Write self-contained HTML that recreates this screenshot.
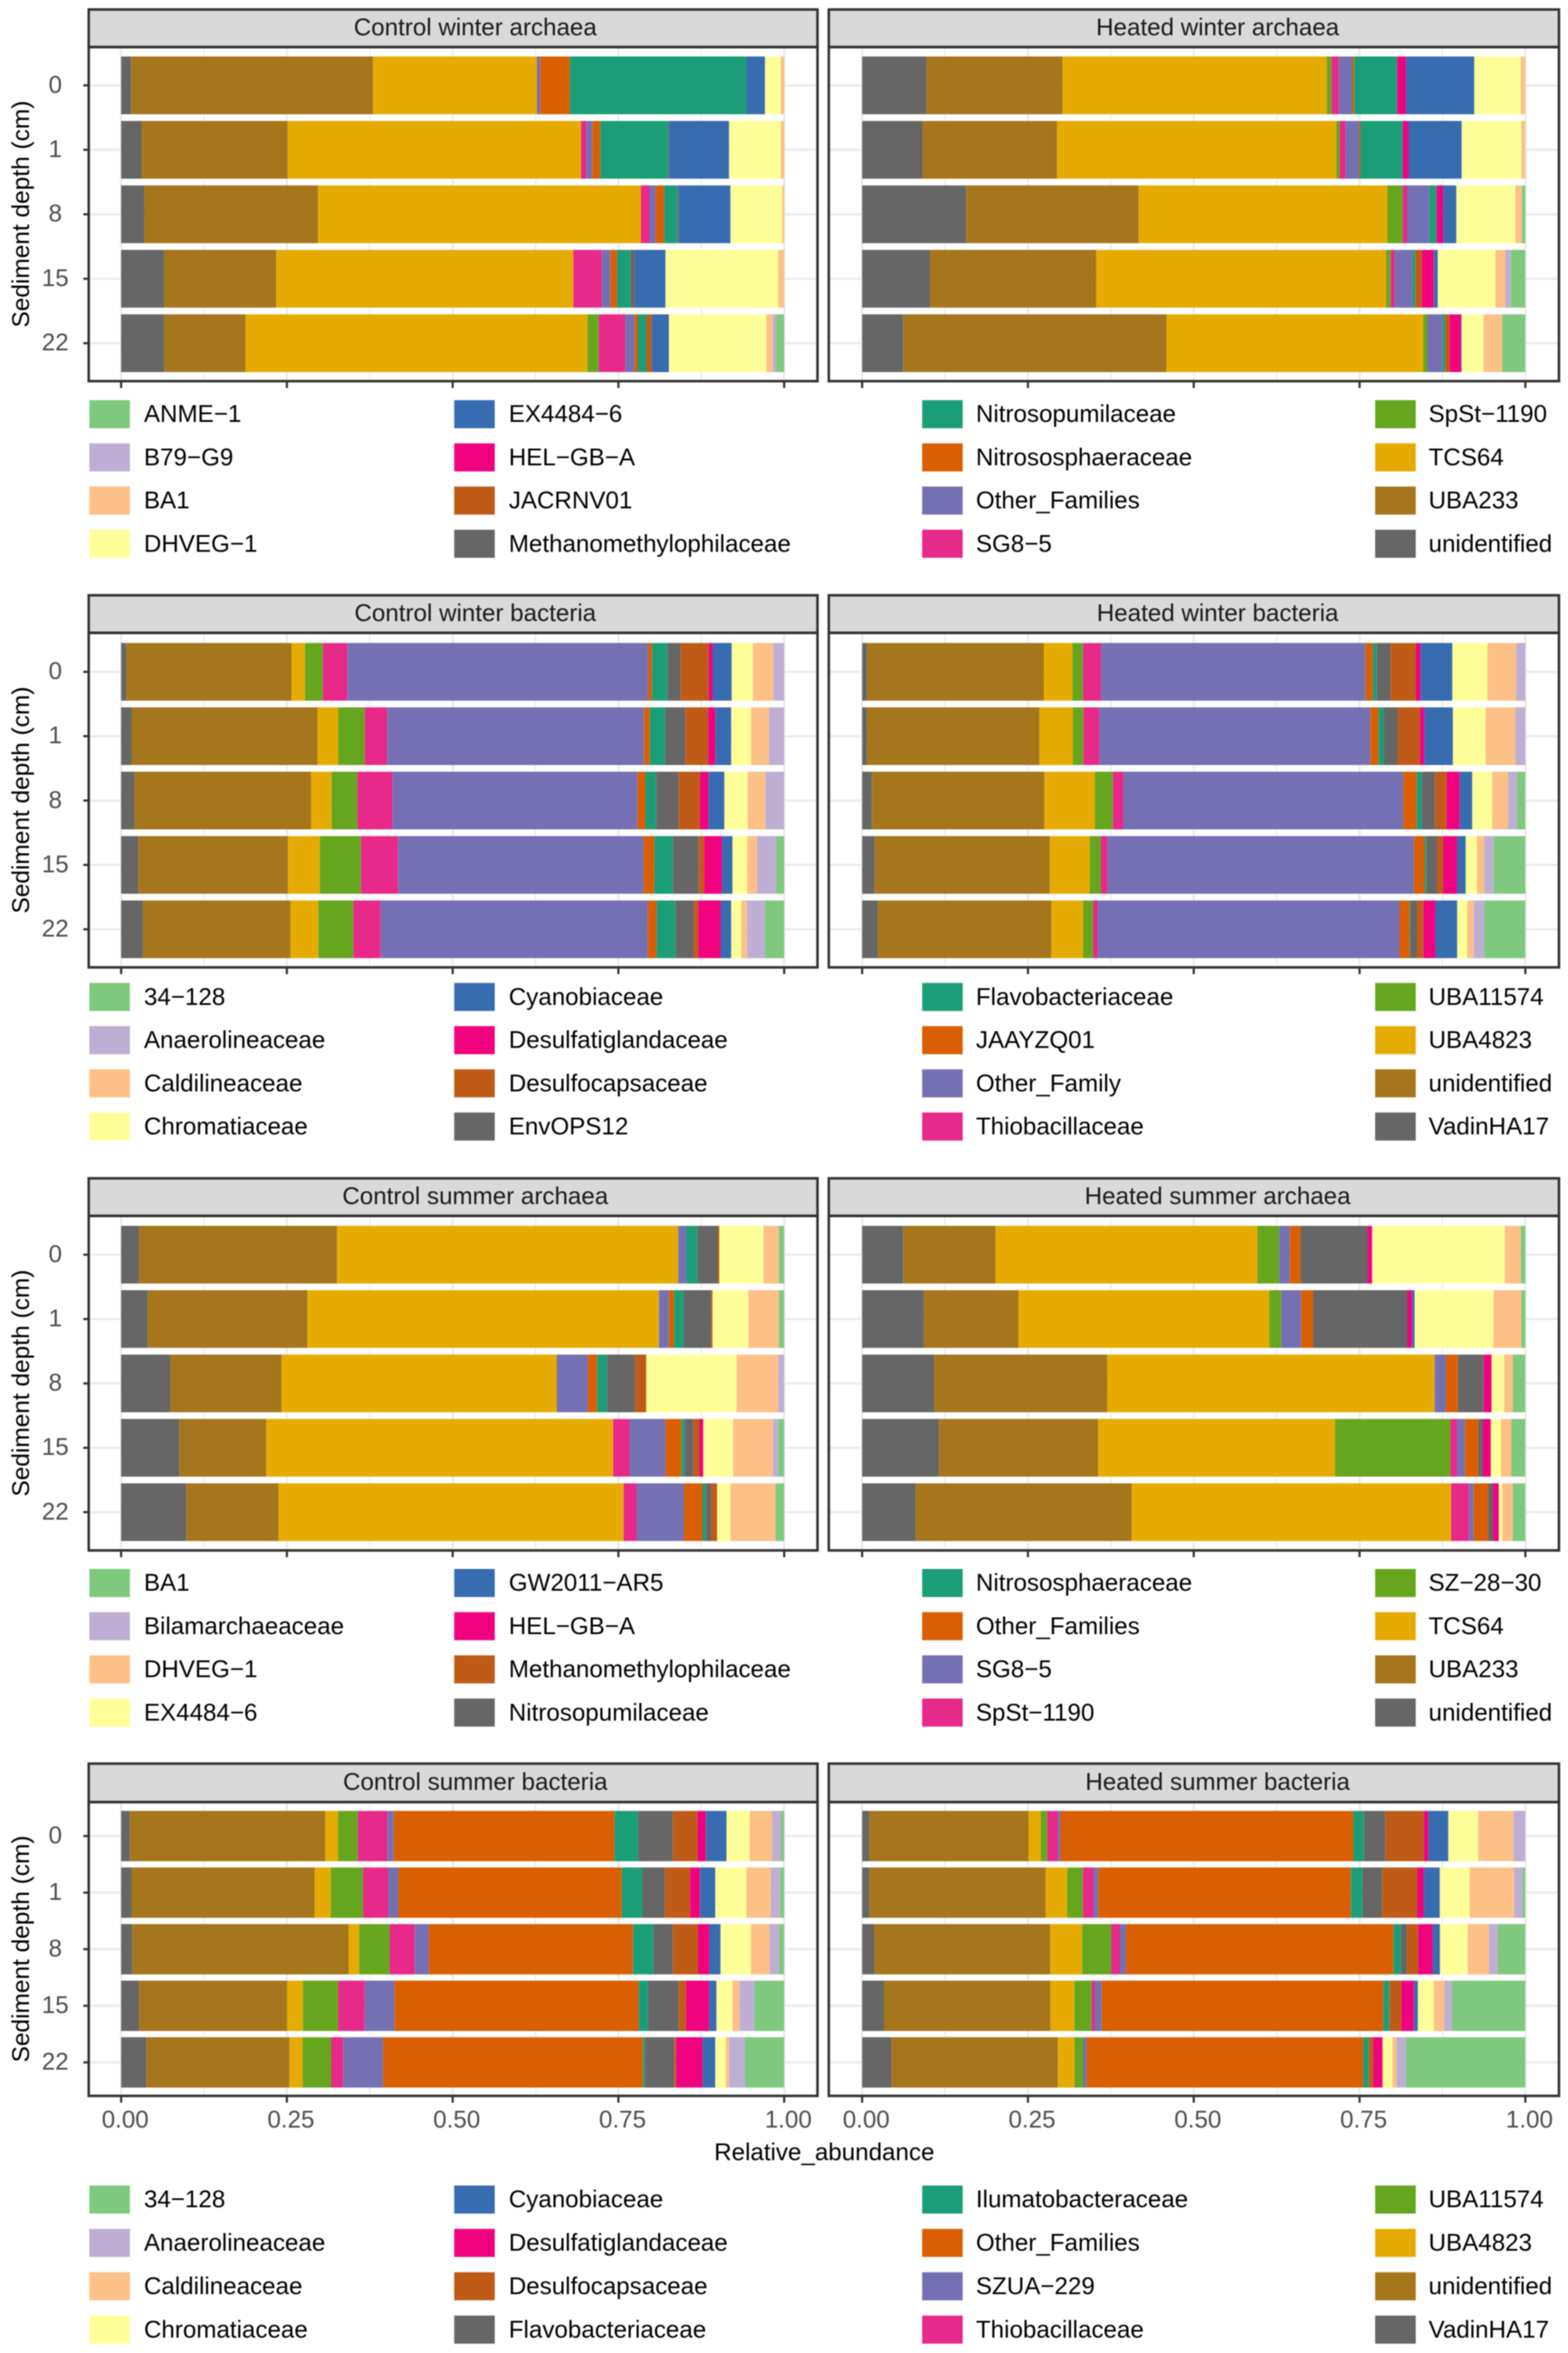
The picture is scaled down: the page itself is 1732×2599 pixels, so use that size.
<!DOCTYPE html>
<html lang="en">
<head>
<meta charset="utf-8">
<title>Relative abundance by sediment depth</title>
<style>
html,body{margin:0;padding:0;background:#fff;}
#figure{display:block;width:1732px;height:2599px;filter:blur(0.5px);}
text{font-family:"Liberation Sans",sans-serif;}
</style>
</head>
<body>
<svg id="figure" xmlns="http://www.w3.org/2000/svg" width="1732" height="2599" viewBox="0 0 1732 2599"></svg>
<script>
// Categories and ticks
const depthLabels = ['0', '1', '8', '15', '22'];
const xTickValues = [0, 0.25, 0.5, 0.75, 1];
const xTickLabels = ['0.00', '0.25', '0.50', '0.75', '1.00'];
const xMinorValues = [0.125, 0.375, 0.625, 0.875];

// Legend labels, alphabetical (fill palette order)
const winterArchaeaLegend = ['ANME\u22121', 'B79\u2212G9', 'BA1', 'DHVEG\u22121', 'EX4484\u22126', 'HEL\u2212GB\u2212A', 'JACRNV01', 'Methanomethylophilaceae', 'Nitrosopumilaceae', 'Nitrososphaeraceae', 'Other_Families', 'SG8\u22125', 'SpSt\u22121190', 'TCS64', 'UBA233', 'unidentified'];
const winterBacteriaLegend = ['34\u2212128', 'Anaerolineaceae', 'Caldilineaceae', 'Chromatiaceae', 'Cyanobiaceae', 'Desulfatiglandaceae', 'Desulfocapsaceae', 'EnvOPS12', 'Flavobacteriaceae', 'JAAYZQ01', 'Other_Family', 'Thiobacillaceae', 'UBA11574', 'UBA4823', 'unidentified', 'VadinHA17'];
const summerArchaeaLegend = ['BA1', 'Bilamarchaeaceae', 'DHVEG\u22121', 'EX4484\u22126', 'GW2011\u2212AR5', 'HEL\u2212GB\u2212A', 'Methanomethylophilaceae', 'Nitrosopumilaceae', 'Nitrososphaeraceae', 'Other_Families', 'SG8\u22125', 'SpSt\u22121190', 'SZ\u221228\u221230', 'TCS64', 'UBA233', 'unidentified'];
const summerBacteriaLegend = ['34\u2212128', 'Anaerolineaceae', 'Caldilineaceae', 'Chromatiaceae', 'Cyanobiaceae', 'Desulfatiglandaceae', 'Desulfocapsaceae', 'Flavobacteriaceae', 'Ilumatobacteraceae', 'Other_Families', 'SZUA\u2212229', 'Thiobacillaceae', 'UBA11574', 'UBA4823', 'unidentified', 'VadinHA17'];

const palette = ['#7FC97F', '#BEAED4', '#FDC086', '#FFFF99', '#386CB0', '#F0027F', '#BF5B17', '#666666', '#1B9E77', '#D95F02', '#7570B3', '#E7298A', '#66A61E', '#E6AB02', '#A6761D', '#666666'];

// Series values (% abundance), one row per depth. Each row runs left to right
// along the bar, i.e. reverse legend order.
const controlWinterArchaea = [
  [1.5, 36.5, 24.7, 0, 0, 0.5, 4.5, 26.6, 0, 0, 0, 2.8, 2.4, 0.5, 0, 0],
  [3.1, 22, 44.2, 0, 0.8, 0.9, 1.2, 10.2, 0.2, 0, 0, 9, 7.8, 0.5, 0, 0],
  [3.5, 26.2, 48.7, 0, 1.3, 0.9, 1.3, 2, 0.2, 0, 0, 7.8, 7.8, 0.3, 0, 0],
  [6.5, 16.9, 44.8, 0, 4.3, 1.3, 1, 2, 0.7, 0, 0, 4.6, 17, 0.9, 0, 0],
  [6.5, 12.3, 51.6, 1.7, 4, 1.4, 0.5, 1.3, 0, 0.8, 0, 2.6, 14.7, 1, 0.5, 1.2]
];
const heatedWinterArchaea = [
  [9.7, 20.5, 39.8, 0.7, 1.1, 2, 0.3, 6.5, 0, 0, 1.3, 10.3, 7, 0.7, 0, 0],
  [9.1, 20.3, 42.1, 0.5, 0.9, 2, 0.2, 6.4, 0, 0, 0.9, 8, 9, 0.6, 0, 0],
  [15.7, 26, 37.5, 2.3, 0.7, 3.3, 0, 1.1, 0, 0, 1, 2, 8.9, 1, 0, 0.5],
  [10.2, 25.1, 43.7, 0.7, 0.6, 2.7, 0, 0.4, 0, 1, 1.8, 0.6, 8.7, 1.5, 0.8, 2.2],
  [6.2, 39.7, 38.7, 0.6, 0, 2.3, 0, 0.4, 0, 0.7, 1.7, 0.1, 3.3, 2.8, 0, 3.5]
];
const controlWinterBacteria = [
  [0.8, 24.9, 2, 2.7, 3.7, 45.3, 0.6, 2.3, 2, 4.2, 0.6, 2.9, 3.2, 3.1, 1.6, 0],
  [1.6, 28.1, 3.1, 4, 3.4, 38.8, 0.9, 2.3, 3.1, 3.4, 1.1, 2.4, 3, 2.7, 2.3, 0],
  [2, 26.6, 3.1, 3.9, 5.3, 36.9, 1.2, 1.6, 3.4, 3.2, 1.3, 2.4, 3.5, 2.7, 2.8, 0],
  [2.6, 22.6, 4.8, 6.2, 5.6, 37.1, 1.6, 2.8, 3.9, 0.8, 2.7, 1.6, 2.2, 1.5, 2.9, 1.2],
  [3.3, 22.3, 4.2, 5.3, 4.1, 40.4, 1.3, 2.9, 2.7, 0.7, 3.4, 1.6, 1.5, 0.9, 2.7, 2.9]
];
const heatedWinterBacteria = [
  [0.7, 26.7, 4.3, 1.6, 2.7, 39.9, 1.1, 0.6, 2.1, 3.8, 0.7, 4.8, 5.3, 4.3, 1.4, 0],
  [0.7, 26, 5, 1.6, 2.4, 40.8, 1.2, 0.8, 2.1, 3.3, 0.7, 4.3, 4.9, 4.5, 1.5, 0],
  [1.5, 26, 7.6, 2.7, 1.6, 42.2, 2, 0.8, 2, 1.7, 2, 1.9, 3, 2.4, 1.3, 1.3],
  [1.9, 26.4, 6, 1.7, 1, 46.2, 1.6, 0.3, 1.6, 0.9, 2.1, 1.3, 1.7, 1.1, 1.4, 4.8],
  [2.4, 26.2, 4.8, 1.5, 0.7, 45.6, 1.5, 0.1, 1, 1, 1.8, 3.3, 1.5, 1, 1.6, 6.2]
];
const controlSummerArchaea = [
  [2.7, 29.9, 51.5, 0, 0, 1.2, 0, 1.7, 3.1, 0.2, 0, 0, 6.7, 2.3, 0, 0.8],
  [4, 24.1, 53, 0, 0, 1.5, 0.8, 1.4, 4.2, 0.2, 0, 0, 5.4, 4.6, 0, 0.8],
  [7.4, 16.8, 41.5, 0, 0, 4.7, 1.4, 1.5, 4.2, 1.7, 0, 0, 13.6, 6.3, 0.9, 0],
  [8.8, 13.1, 52.3, 0, 2.5, 5.4, 2.4, 0.5, 1.3, 0.9, 0.6, 0, 4.5, 6, 0.8, 0.9],
  [9.8, 13.9, 52, 0, 2, 7.1, 2.8, 0.5, 0.8, 0.9, 0, 0, 2, 6.8, 0, 1.3]
];
const heatedSummerArchaea = [
  [6.2, 13.9, 39.5, 3.3, 0, 1.6, 1.6, 0, 10.1, 0, 0.7, 0, 20, 2.4, 0, 0.7],
  [9.3, 14.3, 37.8, 1.8, 0, 3, 1.8, 0, 14.2, 0, 0.7, 0.4, 11.9, 4.2, 0, 0.6],
  [10.9, 26.1, 49.4, 0, 0, 1.7, 1.8, 0, 3.9, 0, 1.2, 0, 1.9, 1.3, 0, 1.9],
  [11.6, 24, 35.7, 17.4, 1, 1.2, 2, 0, 0.7, 0, 1.2, 0, 1.5, 1.6, 0, 2.1],
  [8.1, 32.6, 48.2, 0, 2.7, 0.7, 2.2, 0, 0.7, 0, 0.9, 0, 0.5, 1.6, 0, 1.9]
];
const controlSummerBacteria = [
  [1.3, 29.5, 1.9, 3, 4.5, 0.9, 33.3, 3.6, 5.2, 3.7, 1.3, 3.1, 3.5, 3.4, 1.3, 0.5],
  [1.6, 27.6, 2.4, 4.9, 3.8, 1.5, 33.7, 3.1, 3.4, 3.8, 1.5, 2.3, 4.7, 3.7, 1.4, 0.6],
  [1.7, 32.6, 1.6, 4.6, 3.8, 2.1, 30.8, 3.1, 2.9, 3.8, 1.7, 1.7, 4.6, 2.8, 1.4, 0.8],
  [2.7, 22.3, 2.4, 5.3, 4, 4.5, 36.8, 1.4, 4.6, 1.1, 3.5, 1.1, 2.4, 1.1, 2.2, 4.5],
  [3.8, 21.6, 2, 4.3, 1.8, 6, 39.2, 0.3, 4.4, 0.3, 4, 1.9, 1.6, 0.5, 2.4, 5.9]
];
const heatedSummerBacteria = [
  [1.1, 24, 1.8, 1, 1.6, 0.4, 44.1, 1.6, 3.2, 5.8, 0.7, 3, 4.5, 5.3, 1.8, 0],
  [1.1, 26.6, 3.2, 2.4, 1.6, 0.7, 38.1, 1.7, 3, 5.3, 1, 2.4, 4.5, 6.7, 1.3, 0.4],
  [1.8, 26.6, 4.8, 4.4, 1.3, 0.9, 40.4, 1.1, 0.9, 1.7, 2.2, 1.1, 4.2, 3.2, 1.3, 4.2],
  [3.3, 25.1, 3.6, 2.6, 0.5, 1, 42.5, 0.9, 0, 1.8, 1.9, 0.6, 2.4, 1.6, 1.1, 11.1],
  [4.4, 25.1, 2.5, 1.3, 0, 0.5, 41.7, 0.8, 0, 0.7, 1.4, 0, 1.5, 0.6, 1.4, 18]
];

const panelRows = [
  { left: 'Control winter archaea', right: 'Heated winter archaea', leftValues: controlWinterArchaea, rightValues: heatedWinterArchaea, legend: winterArchaeaLegend, slug: 'winter-archaea' },
  { left: 'Control winter bacteria', right: 'Heated winter bacteria', leftValues: controlWinterBacteria, rightValues: heatedWinterBacteria, legend: winterBacteriaLegend, slug: 'winter-bacteria' },
  { left: 'Control summer archaea', right: 'Heated summer archaea', leftValues: controlSummerArchaea, rightValues: heatedSummerArchaea, legend: summerArchaeaLegend, slug: 'summer-archaea' },
  { left: 'Control summer bacteria', right: 'Heated summer bacteria', leftValues: controlSummerBacteria, rightValues: heatedSummerBacteria, legend: summerBacteriaLegend, slug: 'summer-bacteria' }
];

// Layout
const rowGeometry = [
  { stripTop: 10.5, stripBottom: 52, panelBottom: 421, barTop: 62.4, barStep: 71.2, barHeight: 63.8, legendTop: 442, legendStep: 47.7 },
  { stripTop: 657.5, stripBottom: 699, panelBottom: 1068.5, barTop: 710.2, barStep: 71.1, barHeight: 63.7, legendTop: 1085.7, legendStep: 47.7 },
  { stripTop: 1301.5, stripBottom: 1343, panelBottom: 1712.5, barTop: 1354, barStep: 71.1, barHeight: 63.7, legendTop: 1733, legendStep: 47.7 },
  { stripTop: 1948, stripBottom: 1990.5, panelBottom: 2315, barTop: 2000.2, barStep: 62.5, barHeight: 55.6, legendTop: 2414, legendStep: 47.9 }
];
const columnGeometry = [
  { outerLeft: 98, outerRight: 903, x0: 133.8, plotWidth: 732.4, stripTextX: 525 },
  { outerLeft: 915.5, outerRight: 1722, x0: 952.3, plotWidth: 732.6, stripTextX: 1345 }
];
const legendKeyX = [98.7, 501.7, 1018.6, 1519];
const legendTextX = [159, 562, 1078, 1578];
const FONT = 26.7;
const svg = document.getElementById('figure');
const NS = 'http://www.w3.org/2000/svg';

function make(tag, attrs, parent) {
  const node = document.createElementNS(NS, tag);
  for (const key in attrs) node.setAttribute(key, attrs[key]);
  parent.appendChild(node);
  return node;
}
function xScale(col, fraction) {
  return col.x0 + fraction * col.plotWidth;
}
function yBandTop(geo, index) {
  return geo.barTop + index * geo.barStep;
}
function yBandCenter(geo, index) {
  return yBandTop(geo, index) + geo.barHeight / 2;
}

function drawPanel(title, rows, geo, col, isLeft, isBottom, slug) {
  const panel = make('g', {}, svg);
  
  

  // Minor and major vertical gridlines
  xMinorValues.forEach(function (v) {
    const minor = make('line', { x1: xScale(col, v), x2: xScale(col, v), y1: geo.stripBottom, y2: geo.panelBottom, stroke: '#ebebeb', 'stroke-width': 1.3 }, panel);
    
    
  });
  xTickValues.forEach(function (v) {
    const major = make('line', { x1: xScale(col, v), x2: xScale(col, v), y1: geo.stripBottom, y2: geo.panelBottom, stroke: '#ebebeb', 'stroke-width': 2.4 }, panel);
    
    
  });
  depthLabels.forEach(function (label, i) {
    const grid = make('line', { x1: col.outerLeft, x2: col.outerRight, y1: yBandCenter(geo, i), y2: yBandCenter(geo, i), stroke: '#ebebeb', 'stroke-width': 2.4 }, panel);
    
    
  });

  // Stacked bars: segments normalised to a full bar
  rows.forEach(function (values, r) {
    const total = values.reduce(function (a, b) { return a + b; }, 0);
    let cumulative = 0;
    values.forEach(function (value, s) {
      const start = cumulative / total;
      cumulative += value;
      const end = cumulative / total;
      const seg = make('rect', {
        x: xScale(col, start),
        y: yBandTop(geo, r),
        width: xScale(col, end) - xScale(col, start),
        height: geo.barHeight,
        fill: palette[palette.length - 1 - s]
      }, panel);
      
      
    });
  });

  // Strip and border
  const strip = make('rect', { x: col.outerLeft, y: geo.stripTop, width: col.outerRight - col.outerLeft, height: geo.stripBottom - geo.stripTop, fill: '#d9d9d9', stroke: '#333333', 'stroke-width': 2.8 }, panel);
  
  
  const stripLabel = make('text', { x: col.stripTextX, y: (geo.stripTop + geo.stripBottom) / 2 + 7.8, 'text-anchor': 'middle', 'font-size': FONT, fill: '#1a1a1a' }, panel);
  stripLabel.textContent = title;
  
  
  const border = make('rect', { x: col.outerLeft, y: geo.stripBottom, width: col.outerRight - col.outerLeft, height: geo.panelBottom - geo.stripBottom, fill: 'none', stroke: '#333333', 'stroke-width': 2.8 }, panel);
  
  

  // X ticks
  xTickValues.forEach(function (v, i) {
    const tick = make('line', { x1: xScale(col, v), x2: xScale(col, v), y1: geo.panelBottom, y2: geo.panelBottom + 7.5, stroke: '#333333', 'stroke-width': 2.4 }, panel);
    
    
    if (isBottom) {
      const label = make('text', { x: xScale(col, v) + 4.5, y: geo.panelBottom + 35, 'text-anchor': 'middle', 'font-size': FONT, fill: '#4d4d4d' }, panel);
      label.textContent = xTickLabels[i];
      
      
    }
  });

  // Y ticks
  if (isLeft) {
    depthLabels.forEach(function (text, i) {
      const tick = make('line', { x1: col.outerLeft - 6, x2: col.outerLeft, y1: yBandCenter(geo, i), y2: yBandCenter(geo, i), stroke: '#333333', 'stroke-width': 2.4 }, panel);
      
      
      const label = make('text', { x: 61, y: yBandCenter(geo, i) + 8, 'text-anchor': 'middle', 'font-size': FONT, fill: '#4d4d4d' }, panel);
      label.textContent = text;
      
      
    });
    const centerY = (geo.stripBottom + geo.panelBottom) / 2;
    const yTitle = make('text', { transform: 'translate(32,' + centerY + ') rotate(-90)', 'text-anchor': 'middle', 'font-size': 27, fill: '#000' }, panel);
    yTitle.textContent = 'Sediment depth (cm)';
    
    
  }
}

function drawLegend(labels, geo, slug) {
  const legend = make('g', {}, svg);
  
  
  labels.forEach(function (text, i) {
    const c = Math.floor(i / 4);
    const r = i % 4;
    const top = geo.legendTop + r * geo.legendStep;
    const key = make('rect', { x: legendKeyX[c], y: top, width: 44.8, height: 31, fill: palette[i] }, legend);
    
    
    const label = make('text', { x: legendTextX[c], y: top + 24.2, 'font-size': FONT, fill: '#000' }, legend);
    label.textContent = text;
    
    
  });
}

panelRows.forEach(function (row, i) {
  const geo = rowGeometry[i];
  const isBottom = i === panelRows.length - 1;
  drawPanel(row.left, row.leftValues, geo, columnGeometry[0], true, isBottom, 'control-' + row.slug);
  drawPanel(row.right, row.rightValues, geo, columnGeometry[1], false, isBottom, 'heated-' + row.slug);
  drawLegend(row.legend, geo, row.slug);
});

const xTitle = make('text', { x: 910.5, y: 2386, 'text-anchor': 'middle', 'font-size': FONT, fill: '#000' }, svg);
xTitle.textContent = 'Relative_abundance';


</script>
</body>
</html>
